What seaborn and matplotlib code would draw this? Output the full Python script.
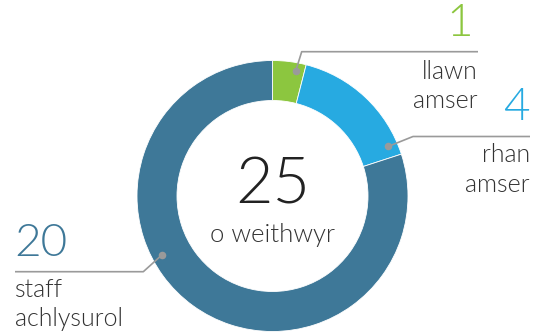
import matplotlib
matplotlib.use("Agg")
import matplotlib.pyplot as plt
import seaborn as sns
import numpy as np
from matplotlib import font_manager

# Staff breakdown
categories = ["llawn\namser", "rhan\namser", "staff\nachlysurol"]
counts = [1, 4, 20]
total_label = "o weithwyr"
colors = ["#8cc63f", "#27aae1", "#3e7898"]

sns.set_theme(style="white")
fams = {f.name for f in font_manager.fontManager.ttflist}
base_font = "Lato" if "Lato" in fams else "DejaVu Sans"
plt.rcParams["font.family"] = [base_font, "DejaVu Sans"]

W, H = 533, 334
fig = plt.figure(figsize=(W / 100, H / 100), dpi=100)
ax = fig.add_axes([0, 0, 1, 1])

cx, cy = 272.5, H - 196
r_out, ring = 135.5, 40

wedges, _ = ax.pie(counts, colors=colors, startangle=90, counterclock=False,
                   radius=r_out, center=(cx, cy), frame=True,
                   wedgeprops=dict(width=ring, edgecolor="white", linewidth=0.6))
ax.set_xlim(0, W)
ax.set_ylim(0, H)
ax.set_aspect("equal")
ax.axis("off")

# leader layout: clockwise fraction along wedge, dot radius, elbow, line end,
# text side, horizontal nudge for the big count, gap below the rule
layout = [
    dict(frac=0.73, rdot=127, elbow=(301.7, 51.7), end=478, side="right", nudge=-5, gap=8),
    dict(frac=0.91, rdot=126, elbow=(413, 136.5), end=530, side="right", nudge=0, gap=7),
    dict(frac=0.59, rdot=125.5, elbow=(143.3, 271.7), end=15, side="left", nudge=-1, gap=6),
]

text_dark = "#333333"
for w, lab, n, col, lo in zip(wedges, categories, counts, colors, layout):
    a = np.deg2rad(w.theta2 - (w.theta2 - w.theta1) * lo["frac"])
    px, py = cx + lo["rdot"] * np.cos(a), cy + lo["rdot"] * np.sin(a)
    ex, ey = lo["elbow"][0], H - lo["elbow"][1]
    ax.plot([px, ex, lo["end"]], [py, ey, ey], color="#9a9a9a", lw=1.2,
            solid_capstyle="butt", zorder=3)
    ax.scatter([px], [py], s=30, color="#9a9a9a", zorder=4, linewidths=0)
    ha = lo["side"]
    ax.text(lo["end"] + lo["nudge"], ey + 8, str(n), ha=ha, va="bottom",
            color=col, fontsize=33, fontweight=300)
    ax.text(lo["end"], ey - lo["gap"], lab, ha=ha, va="top", color=text_dark,
            fontsize=18, fontweight=300, linespacing=1.27)

ax.text(cx, H - 203, str(sum(counts)), ha="center", va="baseline",
        fontsize=46.5, fontweight=300, color="#222222")
ax.text(cx, H - 241.7, total_label, ha="center", va="baseline",
        fontsize=18.5, fontweight=300, color="#333333")

fig.savefig("out.png", dpi=100)
